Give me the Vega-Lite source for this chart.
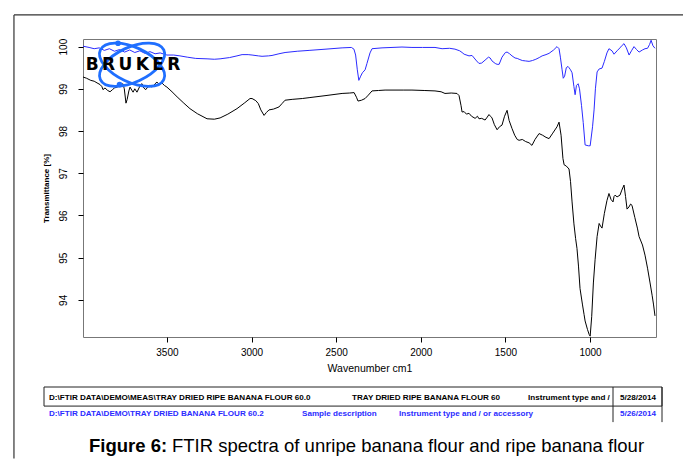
{
  "$schema": "https://vega.github.io/schema/vega-lite/v6.json",
  "padding": {"left": 12, "top": 13, "right": 0, "bottom": 0},
  "background": "white",
  "config": {"view": {"stroke": null}, "font": "Liberation Sans"},
  "bounds": "flush",
  "spacing": 50,
  "data": {"values": [{}]},
  "datasets": {
    "spectra": [
      {"s": "unripe", "w": 3996, "t": 100.01}, {"s": "unripe", "w": 3960, "t": 99.98}, {"s": "unripe", "w": 3930, "t": 99.95}, {"s": "unripe", "w": 3900, "t": 99.97},
      {"s": "unripe", "w": 3870, "t": 99.91}, {"s": "unripe", "w": 3840, "t": 99.95}, {"s": "unripe", "w": 3810, "t": 99.89}, {"s": "unripe", "w": 3780, "t": 99.93},
      {"s": "unripe", "w": 3750, "t": 99.87}, {"s": "unripe", "w": 3720, "t": 99.92}, {"s": "unripe", "w": 3690, "t": 99.86}, {"s": "unripe", "w": 3660, "t": 99.9},
      {"s": "unripe", "w": 3630, "t": 99.84}, {"s": "unripe", "w": 3600, "t": 99.88}, {"s": "unripe", "w": 3570, "t": 99.83}, {"s": "unripe", "w": 3540, "t": 99.85},
      {"s": "unripe", "w": 3500, "t": 99.8}, {"s": "unripe", "w": 3460, "t": 99.8}, {"s": "unripe", "w": 3423, "t": 99.78}, {"s": "unripe", "w": 3380, "t": 99.75},
      {"s": "unripe", "w": 3330, "t": 99.72}, {"s": "unripe", "w": 3263, "t": 99.71}, {"s": "unripe", "w": 3220, "t": 99.7}, {"s": "unripe", "w": 3186, "t": 99.71},
      {"s": "unripe", "w": 3130, "t": 99.74}, {"s": "unripe", "w": 3086, "t": 99.78}, {"s": "unripe", "w": 3056, "t": 99.81}, {"s": "unripe", "w": 3020, "t": 99.81},
      {"s": "unripe", "w": 2997, "t": 99.8}, {"s": "unripe", "w": 2960, "t": 99.78}, {"s": "unripe", "w": 2938, "t": 99.77}, {"s": "unripe", "w": 2900, "t": 99.78},
      {"s": "unripe", "w": 2879, "t": 99.79}, {"s": "unripe", "w": 2838, "t": 99.83}, {"s": "unripe", "w": 2802, "t": 99.86}, {"s": "unripe", "w": 2730, "t": 99.89},
      {"s": "unripe", "w": 2660, "t": 99.91}, {"s": "unripe", "w": 2560, "t": 99.94}, {"s": "unripe", "w": 2465, "t": 99.97}, {"s": "unripe", "w": 2410, "t": 99.98},
      {"s": "unripe", "w": 2395, "t": 99.94}, {"s": "unripe", "w": 2385, "t": 99.8}, {"s": "unripe", "w": 2375, "t": 99.45}, {"s": "unripe", "w": 2366, "t": 99.2},
      {"s": "unripe", "w": 2355, "t": 99.3}, {"s": "unripe", "w": 2345, "t": 99.38}, {"s": "unripe", "w": 2329, "t": 99.45}, {"s": "unripe", "w": 2318, "t": 99.6},
      {"s": "unripe", "w": 2300, "t": 99.85}, {"s": "unripe", "w": 2288, "t": 99.95}, {"s": "unripe", "w": 2229, "t": 99.97}, {"s": "unripe", "w": 2111, "t": 99.99},
      {"s": "unripe", "w": 2052, "t": 99.98}, {"s": "unripe", "w": 1990, "t": 99.98}, {"s": "unripe", "w": 1916, "t": 99.98}, {"s": "unripe", "w": 1874, "t": 99.95},
      {"s": "unripe", "w": 1830, "t": 99.96}, {"s": "unripe", "w": 1798, "t": 99.94}, {"s": "unripe", "w": 1770, "t": 99.9}, {"s": "unripe", "w": 1756, "t": 99.86},
      {"s": "unripe", "w": 1744, "t": 99.82}, {"s": "unripe", "w": 1715, "t": 99.78}, {"s": "unripe", "w": 1697, "t": 99.79}, {"s": "unripe", "w": 1670, "t": 99.66},
      {"s": "unripe", "w": 1656, "t": 99.6}, {"s": "unripe", "w": 1640, "t": 99.61}, {"s": "unripe", "w": 1620, "t": 99.68}, {"s": "unripe", "w": 1600, "t": 99.75},
      {"s": "unripe", "w": 1590, "t": 99.73}, {"s": "unripe", "w": 1579, "t": 99.66}, {"s": "unripe", "w": 1560, "t": 99.6}, {"s": "unripe", "w": 1549, "t": 99.58},
      {"s": "unripe", "w": 1537, "t": 99.58}, {"s": "unripe", "w": 1520, "t": 99.75}, {"s": "unripe", "w": 1500, "t": 99.86}, {"s": "unripe", "w": 1490, "t": 99.87},
      {"s": "unripe", "w": 1475, "t": 99.83}, {"s": "unripe", "w": 1461, "t": 99.78}, {"s": "unripe", "w": 1443, "t": 99.73}, {"s": "unripe", "w": 1430, "t": 99.72},
      {"s": "unripe", "w": 1419, "t": 99.7}, {"s": "unripe", "w": 1400, "t": 99.67}, {"s": "unripe", "w": 1380, "t": 99.66}, {"s": "unripe", "w": 1360, "t": 99.65},
      {"s": "unripe", "w": 1340, "t": 99.67}, {"s": "unripe", "w": 1320, "t": 99.7}, {"s": "unripe", "w": 1300, "t": 99.74}, {"s": "unripe", "w": 1283, "t": 99.78},
      {"s": "unripe", "w": 1260, "t": 99.81}, {"s": "unripe", "w": 1242, "t": 99.84}, {"s": "unripe", "w": 1215, "t": 99.92}, {"s": "unripe", "w": 1195, "t": 100.0},
      {"s": "unripe", "w": 1183, "t": 99.95}, {"s": "unripe", "w": 1175, "t": 99.75}, {"s": "unripe", "w": 1165, "t": 99.45}, {"s": "unripe", "w": 1158, "t": 99.25},
      {"s": "unripe", "w": 1150, "t": 99.3}, {"s": "unripe", "w": 1140, "t": 99.5}, {"s": "unripe", "w": 1130, "t": 99.53}, {"s": "unripe", "w": 1124, "t": 99.5},
      {"s": "unripe", "w": 1115, "t": 99.45}, {"s": "unripe", "w": 1106, "t": 99.38}, {"s": "unripe", "w": 1095, "t": 99.05}, {"s": "unripe", "w": 1088, "t": 98.86},
      {"s": "unripe", "w": 1080, "t": 99.08}, {"s": "unripe", "w": 1070, "t": 99.12}, {"s": "unripe", "w": 1062, "t": 99.0}, {"s": "unripe", "w": 1050, "t": 98.6},
      {"s": "unripe", "w": 1040, "t": 98.2}, {"s": "unripe", "w": 1029, "t": 97.67}, {"s": "unripe", "w": 1010, "t": 97.65}, {"s": "unripe", "w": 999, "t": 97.65},
      {"s": "unripe", "w": 985, "t": 98.1}, {"s": "unripe", "w": 976, "t": 98.5}, {"s": "unripe", "w": 968, "t": 99.0}, {"s": "unripe", "w": 958, "t": 99.4},
      {"s": "unripe", "w": 946, "t": 99.47}, {"s": "unripe", "w": 929, "t": 99.49}, {"s": "unripe", "w": 915, "t": 99.65}, {"s": "unripe", "w": 900, "t": 99.85},
      {"s": "unripe", "w": 888, "t": 99.95}, {"s": "unripe", "w": 870, "t": 99.9}, {"s": "unripe", "w": 858, "t": 99.82}, {"s": "unripe", "w": 840, "t": 99.9},
      {"s": "unripe", "w": 823, "t": 99.97}, {"s": "unripe", "w": 810, "t": 100.03}, {"s": "unripe", "w": 799, "t": 100.07}, {"s": "unripe", "w": 785, "t": 99.97},
      {"s": "unripe", "w": 769, "t": 99.8}, {"s": "unripe", "w": 755, "t": 99.9}, {"s": "unripe", "w": 740, "t": 100.0}, {"s": "unripe", "w": 725, "t": 99.93},
      {"s": "unripe", "w": 710, "t": 99.87}, {"s": "unripe", "w": 690, "t": 99.92}, {"s": "unripe", "w": 675, "t": 99.95}, {"s": "unripe", "w": 660, "t": 99.96},
      {"s": "unripe", "w": 648, "t": 100.05}, {"s": "unripe", "w": 639, "t": 100.15}, {"s": "unripe", "w": 628, "t": 100.02}, {"s": "unripe", "w": 616, "t": 99.96},

      {"s": "ripe", "w": 3996, "t": 99.28}, {"s": "ripe", "w": 3975, "t": 99.25}, {"s": "ripe", "w": 3950, "t": 99.2}, {"s": "ripe", "w": 3930, "t": 99.18},
      {"s": "ripe", "w": 3913, "t": 99.14}, {"s": "ripe", "w": 3895, "t": 99.1}, {"s": "ripe", "w": 3884, "t": 99.05}, {"s": "ripe", "w": 3878, "t": 98.98},
      {"s": "ripe", "w": 3866, "t": 99.02}, {"s": "ripe", "w": 3850, "t": 98.96}, {"s": "ripe", "w": 3836, "t": 98.93}, {"s": "ripe", "w": 3822, "t": 98.98},
      {"s": "ripe", "w": 3810, "t": 99.02}, {"s": "ripe", "w": 3795, "t": 99.04}, {"s": "ripe", "w": 3780, "t": 99.07}, {"s": "ripe", "w": 3768, "t": 99.1},
      {"s": "ripe", "w": 3760, "t": 99.12}, {"s": "ripe", "w": 3752, "t": 99.0}, {"s": "ripe", "w": 3742, "t": 98.66}, {"s": "ripe", "w": 3735, "t": 98.75},
      {"s": "ripe", "w": 3725, "t": 98.95}, {"s": "ripe", "w": 3718, "t": 99.04}, {"s": "ripe", "w": 3708, "t": 98.97}, {"s": "ripe", "w": 3700, "t": 98.92},
      {"s": "ripe", "w": 3690, "t": 99.0}, {"s": "ripe", "w": 3677, "t": 98.92}, {"s": "ripe", "w": 3665, "t": 99.02}, {"s": "ripe", "w": 3655, "t": 99.1},
      {"s": "ripe", "w": 3647, "t": 99.12}, {"s": "ripe", "w": 3637, "t": 99.02}, {"s": "ripe", "w": 3625, "t": 98.98}, {"s": "ripe", "w": 3612, "t": 99.05},
      {"s": "ripe", "w": 3600, "t": 99.09}, {"s": "ripe", "w": 3590, "t": 99.04}, {"s": "ripe", "w": 3580, "t": 99.07}, {"s": "ripe", "w": 3570, "t": 99.12},
      {"s": "ripe", "w": 3559, "t": 99.16}, {"s": "ripe", "w": 3545, "t": 99.1}, {"s": "ripe", "w": 3530, "t": 99.14}, {"s": "ripe", "w": 3515, "t": 99.08},
      {"s": "ripe", "w": 3500, "t": 99.04}, {"s": "ripe", "w": 3470, "t": 98.93}, {"s": "ripe", "w": 3440, "t": 98.81}, {"s": "ripe", "w": 3400, "t": 98.66},
      {"s": "ripe", "w": 3364, "t": 98.53}, {"s": "ripe", "w": 3320, "t": 98.41}, {"s": "ripe", "w": 3263, "t": 98.29}, {"s": "ripe", "w": 3220, "t": 98.28},
      {"s": "ripe", "w": 3186, "t": 98.31}, {"s": "ripe", "w": 3140, "t": 98.4}, {"s": "ripe", "w": 3086, "t": 98.53}, {"s": "ripe", "w": 3040, "t": 98.67},
      {"s": "ripe", "w": 3009, "t": 98.77}, {"s": "ripe", "w": 2997, "t": 98.77}, {"s": "ripe", "w": 2975, "t": 98.72}, {"s": "ripe", "w": 2960, "t": 98.65},
      {"s": "ripe", "w": 2945, "t": 98.5}, {"s": "ripe", "w": 2926, "t": 98.37}, {"s": "ripe", "w": 2912, "t": 98.44}, {"s": "ripe", "w": 2897, "t": 98.5},
      {"s": "ripe", "w": 2870, "t": 98.52}, {"s": "ripe", "w": 2838, "t": 98.57}, {"s": "ripe", "w": 2820, "t": 98.65}, {"s": "ripe", "w": 2802, "t": 98.73},
      {"s": "ripe", "w": 2760, "t": 98.75}, {"s": "ripe", "w": 2700, "t": 98.77}, {"s": "ripe", "w": 2660, "t": 98.79}, {"s": "ripe", "w": 2560, "t": 98.84},
      {"s": "ripe", "w": 2465, "t": 98.89}, {"s": "ripe", "w": 2420, "t": 98.9}, {"s": "ripe", "w": 2394, "t": 98.91}, {"s": "ripe", "w": 2380, "t": 98.8},
      {"s": "ripe", "w": 2371, "t": 98.71}, {"s": "ripe", "w": 2350, "t": 98.73}, {"s": "ripe", "w": 2329, "t": 98.77}, {"s": "ripe", "w": 2310, "t": 98.85},
      {"s": "ripe", "w": 2288, "t": 98.95}, {"s": "ripe", "w": 2250, "t": 98.96}, {"s": "ripe", "w": 2211, "t": 98.97}, {"s": "ripe", "w": 2100, "t": 98.97},
      {"s": "ripe", "w": 2052, "t": 98.97}, {"s": "ripe", "w": 1980, "t": 98.96}, {"s": "ripe", "w": 1916, "t": 98.95}, {"s": "ripe", "w": 1880, "t": 98.93},
      {"s": "ripe", "w": 1857, "t": 98.89}, {"s": "ripe", "w": 1820, "t": 98.9}, {"s": "ripe", "w": 1786, "t": 98.89}, {"s": "ripe", "w": 1774, "t": 98.84},
      {"s": "ripe", "w": 1762, "t": 98.6}, {"s": "ripe", "w": 1756, "t": 98.45}, {"s": "ripe", "w": 1744, "t": 98.46}, {"s": "ripe", "w": 1730, "t": 98.4},
      {"s": "ripe", "w": 1715, "t": 98.42}, {"s": "ripe", "w": 1700, "t": 98.35}, {"s": "ripe", "w": 1679, "t": 98.3}, {"s": "ripe", "w": 1665, "t": 98.35},
      {"s": "ripe", "w": 1656, "t": 98.29}, {"s": "ripe", "w": 1640, "t": 98.3}, {"s": "ripe", "w": 1620, "t": 98.26}, {"s": "ripe", "w": 1607, "t": 98.33},
      {"s": "ripe", "w": 1597, "t": 98.39}, {"s": "ripe", "w": 1588, "t": 98.35}, {"s": "ripe", "w": 1579, "t": 98.31}, {"s": "ripe", "w": 1565, "t": 98.15},
      {"s": "ripe", "w": 1549, "t": 98.03}, {"s": "ripe", "w": 1535, "t": 98.1}, {"s": "ripe", "w": 1520, "t": 98.14}, {"s": "ripe", "w": 1505, "t": 98.35},
      {"s": "ripe", "w": 1490, "t": 98.49}, {"s": "ripe", "w": 1478, "t": 98.25}, {"s": "ripe", "w": 1461, "t": 98.06}, {"s": "ripe", "w": 1445, "t": 97.9},
      {"s": "ripe", "w": 1430, "t": 97.8}, {"s": "ripe", "w": 1419, "t": 97.78}, {"s": "ripe", "w": 1400, "t": 97.8}, {"s": "ripe", "w": 1380, "t": 97.75},
      {"s": "ripe", "w": 1360, "t": 97.72}, {"s": "ripe", "w": 1343, "t": 97.66}, {"s": "ripe", "w": 1325, "t": 97.8}, {"s": "ripe", "w": 1301, "t": 97.94},
      {"s": "ripe", "w": 1280, "t": 97.9}, {"s": "ripe", "w": 1260, "t": 97.85}, {"s": "ripe", "w": 1242, "t": 97.82}, {"s": "ripe", "w": 1220, "t": 97.95},
      {"s": "ripe", "w": 1195, "t": 98.1}, {"s": "ripe", "w": 1183, "t": 98.21}, {"s": "ripe", "w": 1171, "t": 97.9}, {"s": "ripe", "w": 1160, "t": 97.35},
      {"s": "ripe", "w": 1153, "t": 97.2}, {"s": "ripe", "w": 1140, "t": 97.17}, {"s": "ripe", "w": 1124, "t": 97.1}, {"s": "ripe", "w": 1115, "t": 96.8},
      {"s": "ripe", "w": 1106, "t": 96.32}, {"s": "ripe", "w": 1095, "t": 95.8}, {"s": "ripe", "w": 1085, "t": 95.45}, {"s": "ripe", "w": 1077, "t": 95.22},
      {"s": "ripe", "w": 1068, "t": 94.8}, {"s": "ripe", "w": 1059, "t": 94.27}, {"s": "ripe", "w": 1045, "t": 93.9}, {"s": "ripe", "w": 1035, "t": 93.65},
      {"s": "ripe", "w": 1029, "t": 93.5}, {"s": "ripe", "w": 1015, "t": 93.3}, {"s": "ripe", "w": 1005, "t": 93.18}, {"s": "ripe", "w": 999, "t": 93.14},
      {"s": "ripe", "w": 990, "t": 93.6}, {"s": "ripe", "w": 980, "t": 94.4}, {"s": "ripe", "w": 970, "t": 94.95}, {"s": "ripe", "w": 958, "t": 95.5},
      {"s": "ripe", "w": 946, "t": 95.81}, {"s": "ripe", "w": 938, "t": 95.75}, {"s": "ripe", "w": 929, "t": 95.7}, {"s": "ripe", "w": 915, "t": 96.05},
      {"s": "ripe", "w": 900, "t": 96.35}, {"s": "ripe", "w": 888, "t": 96.52}, {"s": "ripe", "w": 876, "t": 96.38}, {"s": "ripe", "w": 864, "t": 96.32},
      {"s": "ripe", "w": 858, "t": 96.45}, {"s": "ripe", "w": 852, "t": 96.48}, {"s": "ripe", "w": 840, "t": 96.44}, {"s": "ripe", "w": 823, "t": 96.48},
      {"s": "ripe", "w": 812, "t": 96.6}, {"s": "ripe", "w": 799, "t": 96.72}, {"s": "ripe", "w": 790, "t": 96.45}, {"s": "ripe", "w": 781, "t": 96.15},
      {"s": "ripe", "w": 770, "t": 96.2}, {"s": "ripe", "w": 760, "t": 96.27}, {"s": "ripe", "w": 752, "t": 96.24}, {"s": "ripe", "w": 735, "t": 95.95},
      {"s": "ripe", "w": 720, "t": 95.7}, {"s": "ripe", "w": 710, "t": 95.5}, {"s": "ripe", "w": 690, "t": 95.3}, {"s": "ripe", "w": 675, "t": 95.06},
      {"s": "ripe", "w": 660, "t": 94.75}, {"s": "ripe", "w": 645, "t": 94.4}, {"s": "ripe", "w": 633, "t": 94.11}, {"s": "ripe", "w": 625, "t": 93.9},
      {"s": "ripe", "w": 616, "t": 93.62}
    ],
    "table": [
      {"row": 0.6, "pos": 5, "s": "ripe", "text": "D:\\FTIR DATA\\DEMO\\MEAS\\TRAY DRIED RIPE BANANA FLOUR 60.0"},
      {"row": 0.6, "pos": 308, "s": "ripe", "text": "TRAY DRIED RIPE BANANA FLOUR 60"},
      {"row": 0.6, "pos": 484, "s": "ripe", "text": "Instrument type and /"},
      {"row": 0.6, "pos": 576, "s": "ripe", "text": "5/28/2014"},
      {"row": 1.5, "pos": 5, "s": "unripe", "text": "D:\\FTIR DATA\\DEMO\\TRAY DRIED BANANA FLOUR 60.2"},
      {"row": 1.5, "pos": 258, "s": "unripe", "text": "Sample description"},
      {"row": 1.5, "pos": 355, "s": "unripe", "text": "Instrument type and / or accessory"},
      {"row": 1.5, "pos": 576, "s": "unripe", "text": "5/26/2014"}
    ]
  },
  "vconcat": [
    {
      "width": 573,
      "height": 298,
      "view": {"stroke": "#777777", "strokeWidth": 1},
      "layer": [
        {
          "data": {"name": "spectra"},
          "mark": {"type": "line", "strokeWidth": 1, "clip": true},
          "encoding": {
            "x": {"field": "w", "type": "quantitative",
              "scale": {"domain": [610, 3996], "reverse": true, "nice": false, "zero": false},
              "axis": {"values": [3500, 3000, 2500, 2000, 1500, 1000], "format": "d", "title": "Wavenumber cm1",
                "domain": false, "grid": false, "ticks": true, "tickSize": 5, "tickColor": "#000000",
                "labelFont": "Liberation Sans", "labelFontSize": 10, "labelColor": "#000000", "labelPadding": 5, "labelFlush": false,
                "titleFont": "Liberation Sans", "titleFontSize": 10.5, "titleFontWeight": "normal", "titleColor": "#000000", "titlePadding": 6}},
            "y": {"field": "t", "type": "quantitative",
              "scale": {"domain": [93.12, 100.18], "nice": false, "zero": false},
              "axis": {"values": [94, 95, 96, 97, 98, 99, 100], "title": "Transmittance [%]",
                "domain": false, "grid": false, "tickSize": 5, "tickColor": "#000000",
                "labelAngle": -90, "labelAlign": "center", "labelBaseline": "bottom", "labelPadding": 10,
                "labelFont": "Liberation Sans", "labelFontSize": 10, "labelColor": "#000000",
                "titleFont": "Liberation Sans", "titleFontSize": 8, "titleFontWeight": "bold", "titleColor": "#000000", "titlePadding": 8}},
            "color": {"field": "s", "type": "nominal", "scale": {"domain": ["ripe", "unripe"], "range": ["#000000", "#2b2bff"]}, "legend": null}
          }
        },
        {
          "mark": {"type": "rule", "color": "#333333", "strokeWidth": 1.2, "clip": false},
          "encoding": {
            "x": {"datum": 4404, "type": "quantitative"},
            "y": {"datum": 100.75, "type": "quantitative"},
            "y2": {"datum": 90.24}
          }
        },
        {
          "mark": {"type": "rule", "color": "#333333", "strokeWidth": 1.2, "clip": false},
          "encoding": {
            "x": {"datum": 4404, "type": "quantitative"},
            "x2": {"datum": 444},
            "y": {"datum": 100.75, "type": "quantitative"}
          }
        },
        {
          "mark": {"type": "point", "shape": "M 0.906 0.423 C 0.789 0.673 0.288 0.687 -0.212 0.453 C -0.712 0.219 -1.023 -0.173 -0.906 -0.423 C -0.789 -0.673 -0.288 -0.687 0.212 -0.453 C 0.712 -0.219 1.023 0.173 0.906 0.423 Z M 0.906 -0.423 C 0.789 -0.673 0.288 -0.687 -0.212 -0.453 C -0.712 -0.219 -1.023 0.173 -0.906 0.423 C -0.789 0.673 -0.288 0.687 0.212 0.453 C 0.712 0.219 1.023 -0.173 0.906 -0.423 Z",
            "size": 4900, "filled": false, "stroke": "#1f6fff", "strokeWidth": 2.8, "opacity": 1, "clip": false},
          "encoding": {
            "x": {"datum": 3706, "type": "quantitative"},
            "y": {"datum": 99.57, "type": "quantitative"}
          }
        },
        {
          "mark": {"type": "point", "shape": "circle", "size": 32, "filled": true, "color": "#1f6fff", "opacity": 1},
          "encoding": {
            "x": {"datum": 3789, "type": "quantitative"},
            "y": {"datum": 100.08, "type": "quantitative"}
          }
        },
        {
          "mark": {"type": "point", "shape": "circle", "size": 32, "filled": true, "color": "#1f6fff", "opacity": 1},
          "encoding": {
            "x": {"datum": 3780, "type": "quantitative"},
            "y": {"datum": 99.1, "type": "quantitative"}
          }
        },
        {
          "mark": {"type": "text", "text": "B\u2009R\u2009U\u2009K\u2009E\u2009R", "font": "DejaVu Sans", "fontWeight": "bold", "fontSize": 17, "color": "#000000", "align": "center", "baseline": "middle"},
          "encoding": {
            "x": {"datum": 3700, "type": "quantitative"},
            "y": {"datum": 99.57, "type": "quantitative"}
          }
        }
      ]
    },
    {
      "width": 579,
      "height": 72,
      "layer": [
        {
          "data": {"name": "table"},
          "mark": {"type": "text", "font": "Liberation Sans", "fontSize": 8.1, "fontWeight": "bold", "align": "left", "baseline": "middle", "clip": false},
          "encoding": {
            "x": {"field": "pos", "type": "quantitative", "scale": {"domain": [39, 618], "nice": false, "zero": false}, "axis": null},
            "y": {"field": "row", "type": "quantitative", "scale": {"domain": [0, 4], "reverse": true, "nice": false, "zero": false}, "axis": null},
            "text": {"field": "text"},
            "color": {"field": "s", "type": "nominal", "scale": {"domain": ["ripe", "unripe"], "range": ["#000000", "#2b2bff"]}, "legend": null}
          }
        },
        {
          "mark": {"type": "rect", "fill": null, "stroke": "#222222", "strokeWidth": 1, "clip": false},
          "encoding": {
            "x": {"datum": 0, "type": "quantitative"}, "x2": {"datum": 618},
            "y": {"datum": 0, "type": "quantitative"}, "y2": {"datum": 1.06}
          }
        },
        {
          "mark": {"type": "rule", "color": "#222222", "strokeWidth": 1, "clip": false},
          "encoding": {
            "x": {"datum": 569, "type": "quantitative"},
            "y": {"datum": 0, "type": "quantitative"}, "y2": {"datum": 1.95}
          }
        },
        {
          "mark": {"type": "rule", "color": "#222222", "strokeWidth": 1, "clip": false},
          "encoding": {
            "x": {"datum": 618, "type": "quantitative"},
            "y": {"datum": 0, "type": "quantitative"}, "y2": {"datum": 1.95}
          }
        },
        {
          "mark": {"type": "text", "text": "Figure 6:", "font": "Liberation Sans", "fontSize": 18.5, "fontWeight": "bold", "align": "left", "baseline": "middle", "color": "#000000", "clip": false},
          "encoding": {
            "x": {"datum": 45, "type": "quantitative"},
            "y": {"datum": 3.28, "type": "quantitative"}
          }
        },
        {
          "mark": {"type": "text", "text": "FTIR spectra of unripe banana flour and ripe banana flour", "font": "Liberation Sans", "fontSize": 18.5, "align": "left", "baseline": "middle", "color": "#000000", "clip": false},
          "encoding": {
            "x": {"datum": 128, "type": "quantitative"},
            "y": {"datum": 3.28, "type": "quantitative"}
          }
        }
      ]
    }
  ]
}
